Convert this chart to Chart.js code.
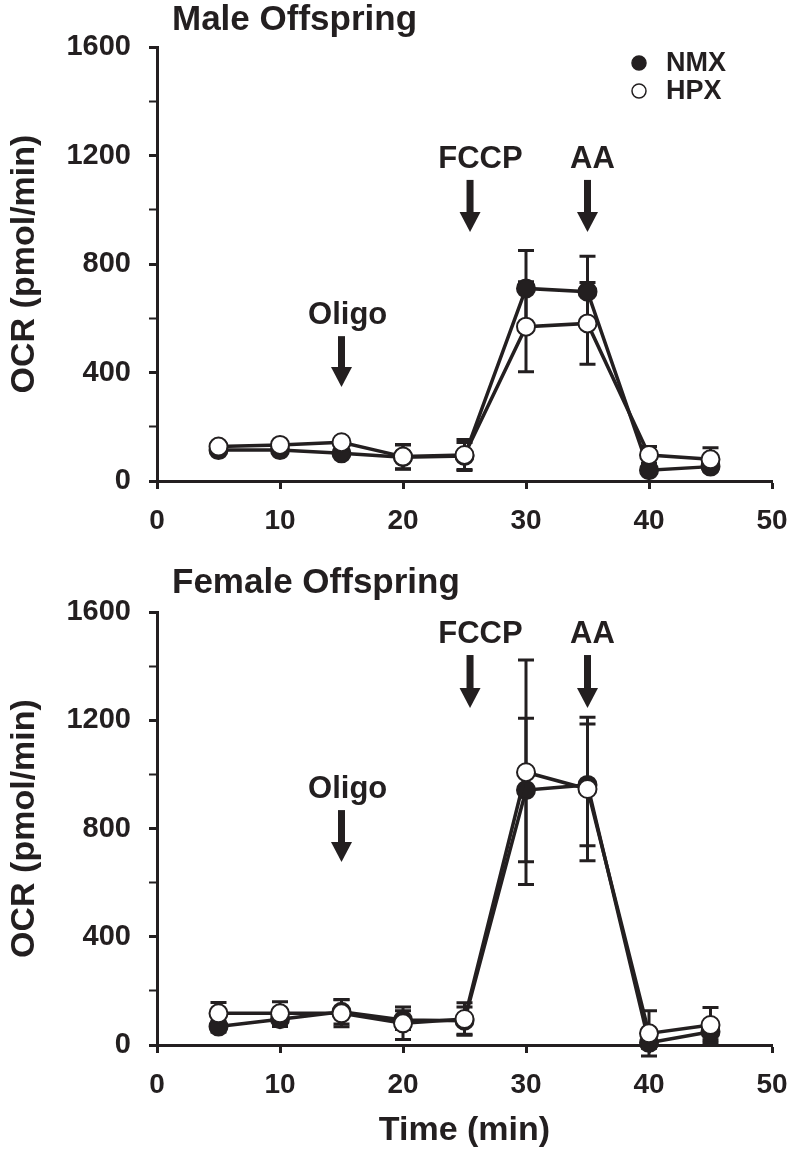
<!DOCTYPE html>
<html>
<head>
<meta charset="utf-8">
<script src="https://cdn.jsdelivr.net/npm/chart.js@4.4.0/dist/chart.umd.min.js"></script>
<style>
  html, body { margin: 0; padding: 0; background: #fff; }
  canvas { display: block; }
</style>
</head>
<body>
<canvas id="maleChart" width="792" height="565"></canvas>
<canvas id="femaleChart" width="792" height="592"></canvas>
<script>
// time of each measurement (min)
const timePoints = [5, 10, 15, 20, 25, 30, 35, 40, 45];

// male offspring, OCR mean and error
const maleNMX    = [114, 114, 102, 88, 92, 710, 698, 40, 53];
const maleNMXErr = [10, 10, 10, 45, 50, 140, 131, 15, 15];
const maleHPX    = [127, 133, 143, 90, 96, 569, 581, 96, 80];
const maleHPXErr = [15, 10, 10, 45, 57, 166, 151, 31, 43];

// female offspring
const femaleNMX    = [68, 95, 123, 92, 90, 942, 961, 8, 49];
const femaleNMXErr = [20, 27, 45, 35, 50, 265, 225, 20, 30];
const femaleHPX    = [117, 117, 117, 80, 96, 1008, 946, 43, 74];
const femaleHPXErr = [40, 43, 50, 60, 60, 415, 265, 84, 65];

// axis ticks
const xTickValues = [0, 10, 20, 30, 40, 50];
const yTickLabels = [0, 400, 800, 1200, 1600];

// drug injections (arrow time, label time)
const drugNames = ['Oligo', 'FCCP', 'AA'];
const drugTimes = [15, 25.45, 35];
const drugLabelTimes = [15.5, 26.3, 35.4];
// arrow top / tip in OCR units
const maleArrowTop   = [534, 1110, 1110];
const maleArrowTip   = [347, 918, 918];
const femaleArrowTop = [868, 1441, 1441];
const femaleArrowTip = [676, 1245, 1245];

const ink = '#231f20';
const FONT = "'Liberation Sans', Arial, sans-serif";

function pts(ys) {
  return timePoints.map((t, i) => ({ x: t, y: ys[i] }));
}

const errorBars = {
  id: 'errorBars',
  beforeDatasetsDraw(chart) {
    const { ctx, scales: { x, y } } = chart;
    ctx.save();
    ctx.strokeStyle = ink;
    ctx.lineWidth = 3;
    chart.data.datasets.forEach(ds => {
      ds.data.forEach((p, i) => {
        const e = ds.errors[i];
        const px = x.getPixelForValue(p.x);
        const top = y.getPixelForValue(p.y + e);
        const bot = y.getPixelForValue(p.y - e);
        ctx.beginPath();
        ctx.moveTo(px, top); ctx.lineTo(px, bot);
        ctx.moveTo(px - 8, top); ctx.lineTo(px + 8, top);
        ctx.moveTo(px - 8, bot); ctx.lineTo(px + 8, bot);
        ctx.stroke();
      });
    });
    ctx.restore();
  }
};

const drugArrows = {
  id: 'drugArrows',
  afterDraw(chart, args, opts) {
    const { ctx, scales: { x, y } } = chart;
    ctx.save();
    ctx.fillStyle = ink;
    ctx.font = 'bold 31px ' + FONT;
    ctx.textAlign = 'center';
    ctx.textBaseline = 'alphabetic';
    drugNames.forEach((name, i) => {
      const px = x.getPixelForValue(drugTimes[i]);
      const top = y.getPixelForValue(opts.top[i]);
      const tip = y.getPixelForValue(opts.tip[i]);
      ctx.fillRect(px - 3.5, top, 7, tip - top - 18);
      ctx.beginPath();
      ctx.moveTo(px - 10.5, tip - 20);
      ctx.lineTo(px + 10.5, tip - 20);
      ctx.lineTo(px, tip);
      ctx.closePath();
      ctx.fill();
      ctx.fillText(name, x.getPixelForValue(drugLabelTimes[i]), top - 12);
    });
    ctx.restore();
  }
};

const panelTitle = {
  id: 'panelTitle',
  afterDraw(chart, args, opts) {
    const { ctx } = chart;
    ctx.save();
    ctx.fillStyle = ink;
    ctx.font = 'bold 35px ' + FONT;
    ctx.textAlign = 'left';
    ctx.textBaseline = 'middle';
    ctx.fillText(opts.text, 172, opts.y);
    ctx.restore();
  }
};

const sideLegend = {
  id: 'sideLegend',
  afterDraw(chart, args, opts) {
    if (!opts.show) return;
    const { ctx, chartArea } = chart;
    ctx.save();
    ctx.font = 'bold 27px ' + FONT;
    ctx.textBaseline = 'middle';
    ctx.textAlign = 'left';
    chart.data.datasets.forEach((ds, i) => {
      const cx = chartArea.right - 133;
      const cy = chartArea.top + 16 + i * 28;
      ctx.beginPath();
      ctx.arc(cx, cy, 7, 0, Math.PI * 2);
      ctx.fillStyle = ds.pointBackgroundColor;
      ctx.fill();
      ctx.lineWidth = 1.5;
      ctx.strokeStyle = ink;
      ctx.stroke();
      ctx.fillStyle = ink;
      ctx.fillText(ds.label, cx + 27, cy + 1);
    });
    ctx.restore();
  }
};

function series(label, values, errors, fill, order) {
  return {
    label: label,
    data: pts(values),
    errors: errors,
    borderColor: ink,
    borderWidth: 3.5,
    pointBackgroundColor: fill,
    pointBorderColor: ink,
    pointBorderWidth: 2,
    pointRadius: 9,
    tension: 0,
    clip: false,
    order: order
  };
}

function makeChart(id, cfg) {
  return new Chart(id, {
    type: 'line',
    data: {
      datasets: [
        series('NMX', cfg.nmx, cfg.nmxErr, ink, 1),
        series('HPX', cfg.hpx, cfg.hpxErr, '#ffffff', 0)
      ]
    },
    options: {
      responsive: false,
      animation: false,
      layout: { padding: { top: 47, right: 20, left: 0, bottom: 0 } },
      plugins: {
        legend: { display: false },
        tooltip: { enabled: false },
        panelTitle: { text: cfg.title, y: cfg.titleY },
        drugArrows: { top: cfg.arrowTop, tip: cfg.arrowTip },
        sideLegend: { show: cfg.legend }
      },
      scales: {
        x: {
          type: 'linear',
          min: 0, max: 50,
          afterFit: s => { s.height = cfg.xHeight; s.paddingRight = 0; s.paddingLeft = 0; },
          afterBuildTicks: s => { s.ticks = xTickValues.map(v => ({ value: v })); },
          border: { display: true, color: ink, width: 3 },
          grid: { display: true, drawOnChartArea: false, drawTicks: true, tickLength: 8, tickColor: ink, tickWidth: 3 },
          ticks: { color: ink, padding: 15, font: { family: FONT, size: 28, weight: 'bold' }, maxRotation: 0 },
          title: {
            display: cfg.xTitle,
            text: 'Time (min)',
            color: ink,
            font: { family: FONT, size: 34, weight: 'bold' },
            padding: { top: 0, bottom: 6 }
          }
        },
        y: {
          min: 0, max: 1600,
          afterFit: s => { s.width = 157; },
          ticks: {
            stepSize: 200,
            autoSkip: false,
            color: ink,
            padding: 18,
            font: { family: FONT, size: 29, weight: 'bold' },
            callback: v => (yTickLabels.includes(v) ? String(v) : '')
          },
          border: { display: true, color: ink, width: 3 },
          grid: { display: true, drawOnChartArea: false, drawTicks: true, tickLength: 8, tickColor: ink,
                  tickWidth: c => (yTickLabels.includes(c.tick.value) ? 3 : 2) },
          title: {
            display: true,
            text: 'OCR (pmol/min)',
            color: ink,
            font: { family: FONT, size: 34, weight: 'bold' },
            padding: { top: 4, bottom: 0 }
          }
        }
      }
    },
    plugins: [errorBars, drugArrows, panelTitle, sideLegend]
  });
}

makeChart('maleChart', {
  title: 'Male Offspring', titleY: 20,
  nmx: maleNMX, nmxErr: maleNMXErr, hpx: maleHPX, hpxErr: maleHPXErr,
  arrowTop: maleArrowTop, arrowTip: maleArrowTip,
  legend: true, xTitle: false, xHeight: 84
});

makeChart('femaleChart', {
  title: 'Female Offspring', titleY: 18,
  nmx: femaleNMX, nmxErr: femaleNMXErr, hpx: femaleHPX, hpxErr: femaleHPXErr,
  arrowTop: femaleArrowTop, arrowTip: femaleArrowTip,
  legend: false, xTitle: true, xHeight: 112
});
</script>
</body>
</html>
